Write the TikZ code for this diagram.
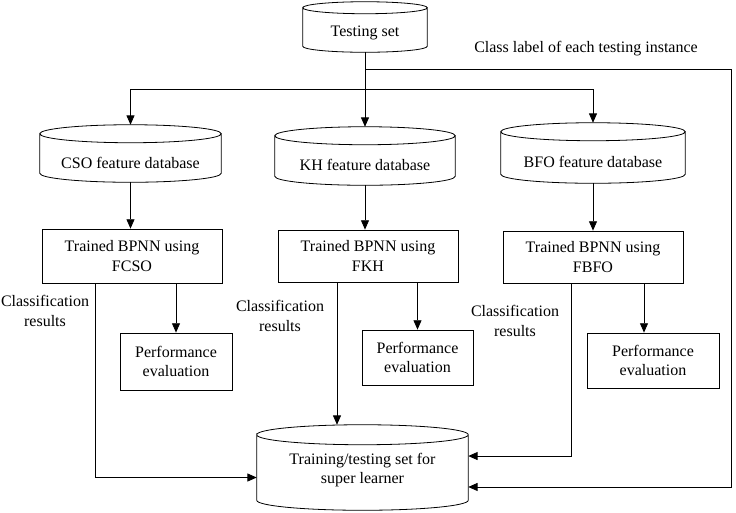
\documentclass[tikz,border=0pt]{standalone}
\usepackage{fontspec}
\setmainfont{Liberation Serif}
\usetikzlibrary{arrows.meta,calc}

\tikzset{
	box/.style={draw, line width=0.6pt, align=center, inner sep=2pt, font=\fontsize{12}{14.5}\selectfont},
	dbase/.style={align=center, inner sep=0pt, font=\fontsize{12}{14.5}\selectfont},
	lbl/.style={align=center, inner sep=1pt, font=\fontsize{12}{14.5}\selectfont},
	arr/.style={line width=0.6pt, -{Triangle[length=7pt,width=6pt]}},
}

\begin{document}
\begin{tikzpicture}[x=0.75pt,y=-0.75pt]
		\useasboundingbox (0,0) rectangle (736,512);
		
		% databases (node = body of the cylinder)
		\node[dbase, minimum width=93pt, minimum height=28.5pt] (test) at (365,33) {Testing set};
		\node[dbase, minimum width=135.75pt, minimum height=29.25pt] (cso) at (130.5,162.5) {CSO feature database};
		\node[dbase, minimum width=135pt, minimum height=30pt] (kh) at (365,165) {KH feature database};
		\node[dbase, minimum width=138pt, minimum height=31.5pt] (bfo) at (593,162) {BFO feature database};
		\node[dbase, minimum width=158.25pt, minimum height=48.75pt, text depth=14pt] (super) at (362.5,477.5) {Training/testing set for\\super learner};
		
		\foreach \db/\r in {test/6, cso/9, kh/9, bfo/9, super/10}{
			\draw[line width=0.6pt] let \p1=(\db.north west), \p2=(\db.south east), \n1={(\x2-\x1)/2}, \n2={\r*0.75} in
				(\x1,{\y1+\n2*1pt}) arc[start angle=180, end angle=-180, x radius={\n1*1pt}, y radius={\n2*1pt}]
				-- (\x1,{\y2+\n2*1pt}) arc[start angle=180, end angle=360, x radius={\n1*1pt}, y radius={\n2*1pt}]
				-- (\x2,{\y1+\n2*1pt});
		}
		
		% classifiers and evaluation
		\node[box, minimum width=135pt, minimum height=40.5pt] (csobox) at (132,256) {Trained BPNN using\\FCSO};
		\node[box, minimum width=135pt, minimum height=39pt] (khbox) at (368,256) {Trained BPNN using\\FKH};
		\node[box, minimum width=135pt, minimum height=39pt] (bfobox) at (593,257) {Trained BPNN using\\FBFO};
		\node[box, minimum width=84pt, minimum height=42.75pt] (perf1) at (176,361.5) {Performance\\evaluation};
		\node[box, minimum width=83.25pt, minimum height=41.25pt] (perf2) at (417.5,357.5) {Performance\\evaluation};
		\node[box, minimum width=99pt, minimum height=41.25pt] (perf3) at (653,360.5) {Performance\\evaluation};
		
		\node[lbl] (res1) at (45,311) {Classification\\results};
		\node[lbl] (res2) at (280,316) {Classification\\results};
		\node[lbl] (res3) at (515,321) {Classification\\results};
		\node[lbl] (cls) at (586,49) {Class label of each testing instance};
		
		% testing set to the feature databases
		\coordinate (split) at (365,89);
		\coordinate (lblsplit) at (365,69);
		\coordinate (rcorner) at (731,69);
		\draw[arr] (test.south) -- ([yshift=13.5pt]kh.north);
		\draw[arr] (split) -| ([yshift=13.5pt]cso.north);
		\draw[arr] (split) -| ([yshift=13.5pt]bfo.north);
		\draw[arr] (lblsplit) -- (rcorner) |- ([yshift=-7.1pt]super.east);
		
		\draw[arr] (cso.south) -- (cso.south |- csobox.north);
		\draw[arr] (kh.south) -- (kh.south |- khbox.north);
		\draw[arr] (bfo.south) -- (bfo.south |- bfobox.north);
		
		\draw[arr] (perf1.north |- csobox.south) -- (perf1.north);
		\draw[arr] (perf2.north |- khbox.south) -- (perf2.north);
		\coordinate (bfoeval) at (644,283);
		\draw[arr] (bfoeval) -- (bfoeval |- perf3.north);
		
		% classification results to the super learner set
		\coordinate (csores) at ([xshift=-27.75pt]csobox.south);
		\coordinate (khres) at ([xshift=-23.25pt]khbox.south);
		\coordinate (bfores) at ([xshift=-16.5pt]bfobox.south);
		\coordinate (suptop) at ([yshift=15pt]super.north);
		\draw[arr] (csores) |- (super.west);
		\draw[arr] (khres) -- (khres |- suptop);
		\draw[arr] (bfores) |- ([yshift=16.1pt]super.east);
\end{tikzpicture}
\end{document}
